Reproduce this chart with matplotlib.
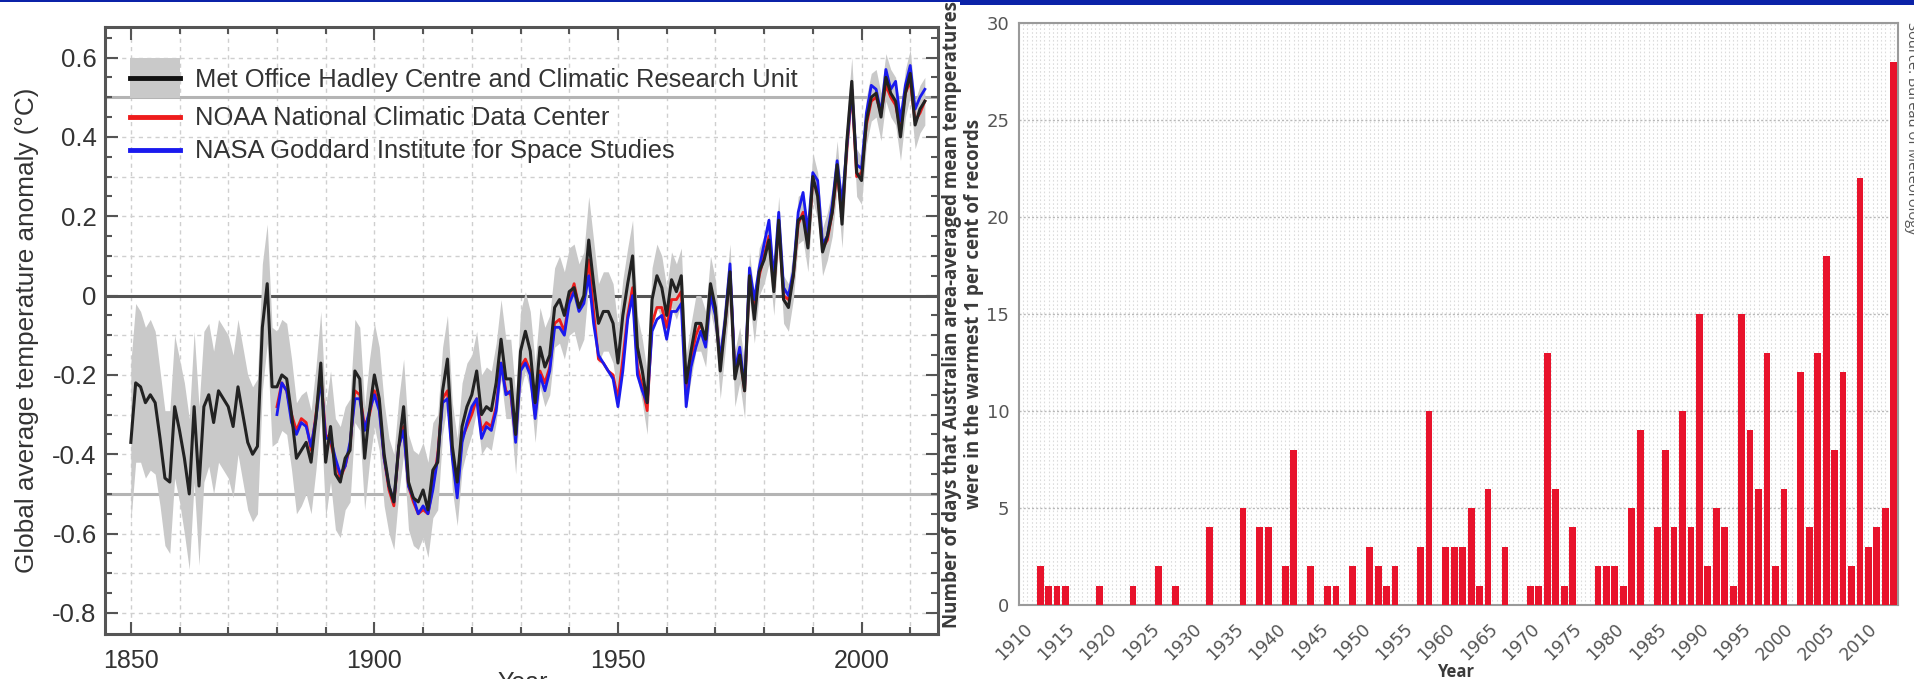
import numpy as np
import matplotlib.pyplot as plt
from matplotlib.patches import Rectangle
from matplotlib.lines import Line2D

# ---- global temperature anomaly (deg C, relative to 1961-1990) ----
had_years = np.arange(1850, 2014)
had_anom = [
    -0.37, -0.22, -0.23, -0.27, -0.25, -0.27, -0.36, -0.46, -0.47, -0.28,
    -0.34, -0.41, -0.50, -0.28, -0.48, -0.28, -0.25, -0.32, -0.24, -0.26,
    -0.28, -0.33, -0.23, -0.30, -0.37, -0.40, -0.38, -0.08, 0.03, -0.23,
    -0.23, -0.20, -0.21, -0.30, -0.41, -0.39, -0.37, -0.42, -0.31, -0.17,
    -0.42, -0.33, -0.45, -0.47, -0.41, -0.39, -0.19, -0.21, -0.41, -0.29,
    -0.20, -0.26, -0.40, -0.48, -0.52, -0.38, -0.28, -0.47, -0.51, -0.52,
    -0.49, -0.54, -0.44, -0.42, -0.24, -0.16, -0.38, -0.47, -0.33, -0.28,
    -0.25, -0.19, -0.30, -0.28, -0.29, -0.22, -0.11, -0.21, -0.21, -0.35,
    -0.14, -0.09, -0.14, -0.27, -0.13, -0.18, -0.15, -0.03, -0.01, -0.05,
    0.01, 0.02, -0.03, 0.00, 0.14, 0.03, -0.07, -0.04, -0.04, -0.07,
    -0.17, -0.05, 0.03, 0.10, -0.13, -0.19, -0.27, -0.01, 0.05, 0.02,
    -0.05, 0.04, 0.01, 0.05, -0.22, -0.14, -0.07, -0.07, -0.11, 0.03,
    -0.03, -0.19, -0.07, 0.06, -0.21, -0.15, -0.24, 0.05, -0.06, 0.06,
    0.09, 0.14, 0.01, 0.19, -0.01, -0.03, 0.05, 0.19, 0.20, 0.12,
    0.30, 0.25, 0.11, 0.15, 0.21, 0.33, 0.18, 0.39, 0.54, 0.31,
    0.29, 0.44, 0.50, 0.51, 0.45, 0.55, 0.51, 0.49, 0.40, 0.51,
    0.56, 0.43, 0.47, 0.49,
]
# half width of the HadCRUT uncertainty range
had_unc = [
    0.20, 0.20, 0.19, 0.19, 0.19, 0.18, 0.17, 0.17, 0.18, 0.18,
    0.18, 0.19, 0.19, 0.19, 0.20, 0.19, 0.18, 0.18, 0.18, 0.18,
    0.18, 0.18, 0.17, 0.17, 0.17, 0.17, 0.17, 0.16, 0.15, 0.15,
    0.14, 0.14, 0.14, 0.14, 0.14, 0.14, 0.13, 0.13, 0.13, 0.13,
    0.14, 0.14, 0.14, 0.14, 0.13, 0.13, 0.13, 0.13, 0.13, 0.13,
    0.13, 0.13, 0.13, 0.12, 0.12, 0.12, 0.12, 0.12, 0.12, 0.12,
    0.12, 0.12, 0.12, 0.12, 0.11, 0.11, 0.11, 0.11, 0.11, 0.11,
    0.10, 0.10, 0.10, 0.10, 0.10, 0.10, 0.10, 0.10, 0.10, 0.10,
    0.10, 0.10, 0.10, 0.10, 0.10, 0.10, 0.10, 0.10, 0.11, 0.11,
    0.11, 0.11, 0.11, 0.11, 0.11, 0.11, 0.10, 0.10, 0.10, 0.10,
    0.09, 0.09, 0.09, 0.09, 0.08, 0.08, 0.08, 0.08, 0.08, 0.08,
    0.07, 0.07, 0.07, 0.07, 0.07, 0.07, 0.07, 0.07, 0.07, 0.07,
    0.07, 0.07, 0.07, 0.07, 0.07, 0.07, 0.07, 0.06, 0.06, 0.06,
    0.06, 0.06, 0.06, 0.06, 0.06, 0.06, 0.06, 0.06, 0.06, 0.06,
    0.06, 0.06, 0.06, 0.06, 0.06, 0.06, 0.06, 0.06, 0.06, 0.06,
    0.06, 0.06, 0.06, 0.06, 0.06, 0.06, 0.06, 0.06, 0.06, 0.06,
    0.06, 0.06, 0.06, 0.06,
]

gh_years = np.arange(1880, 2014)
noaa_anom = [
    -0.28, -0.22, -0.24, -0.30, -0.34, -0.31, -0.32, -0.39, -0.30, -0.20,
    -0.35, -0.37, -0.42, -0.46, -0.43, -0.38, -0.24, -0.25, -0.33, -0.30,
    -0.24, -0.28, -0.41, -0.49, -0.53, -0.38, -0.33, -0.48, -0.52, -0.55,
    -0.54, -0.55, -0.48, -0.40, -0.26, -0.24, -0.40, -0.48, -0.36, -0.33,
    -0.30, -0.26, -0.34, -0.32, -0.33, -0.28, -0.17, -0.24, -0.25, -0.36,
    -0.18, -0.16, -0.19, -0.30, -0.19, -0.22, -0.18, -0.07, -0.06, -0.09,
    -0.01, 0.03, -0.03, -0.01, 0.09, -0.04, -0.16, -0.17, -0.19, -0.20,
    -0.26, -0.16, -0.05, 0.02, -0.18, -0.23, -0.29, -0.07, -0.03, -0.03,
    -0.08, -0.01, -0.01, 0.01, -0.25, -0.16, -0.10, -0.07, -0.12, 0.01,
    -0.04, -0.17, -0.07, 0.06, -0.19, -0.15, -0.24, 0.05, -0.02, 0.05,
    0.10, 0.15, 0.02, 0.18, 0.00, -0.01, 0.05, 0.18, 0.21, 0.13,
    0.29, 0.26, 0.12, 0.14, 0.21, 0.31, 0.20, 0.37, 0.52, 0.30,
    0.31, 0.43, 0.49, 0.50, 0.46, 0.53, 0.50, 0.48, 0.42, 0.51,
    0.54, 0.44, 0.46, 0.49,
]
nasa_anom = [
    -0.30, -0.22, -0.24, -0.32, -0.35, -0.32, -0.33, -0.38, -0.31, -0.21,
    -0.36, -0.36, -0.41, -0.45, -0.43, -0.37, -0.26, -0.26, -0.34, -0.29,
    -0.25, -0.29, -0.41, -0.48, -0.52, -0.38, -0.34, -0.48, -0.51, -0.55,
    -0.53, -0.55, -0.49, -0.41, -0.27, -0.26, -0.41, -0.51, -0.37, -0.32,
    -0.28, -0.26, -0.36, -0.33, -0.34, -0.29, -0.17, -0.25, -0.24, -0.37,
    -0.19, -0.17, -0.20, -0.31, -0.20, -0.24, -0.19, -0.08, -0.08, -0.10,
    -0.02, 0.01, -0.04, -0.02, 0.05, -0.07, -0.15, -0.17, -0.19, -0.21,
    -0.28, -0.19, -0.06, 0.00, -0.20, -0.24, -0.27, -0.09, -0.06, -0.05,
    -0.11, -0.04, -0.04, -0.02, -0.28, -0.18, -0.13, -0.09, -0.13, 0.00,
    -0.05, -0.16, -0.06, 0.08, -0.19, -0.13, -0.23, 0.07, -0.01, 0.07,
    0.13, 0.19, 0.04, 0.21, 0.02, 0.00, 0.06, 0.21, 0.26, 0.16,
    0.31, 0.29, 0.13, 0.15, 0.23, 0.34, 0.23, 0.38, 0.52, 0.33,
    0.32, 0.46, 0.53, 0.52, 0.46, 0.57, 0.52, 0.54, 0.44, 0.53,
    0.58, 0.47, 0.50, 0.52,
]

# ---- Australian days in the warmest 1 per cent (years with none are left out) ----
warm_years = [1912, 1913, 1914, 1915, 1919, 1923, 1926, 1928, 1932, 1936,
              1938, 1939, 1941, 1942, 1944, 1946, 1947, 1949, 1951, 1952,
              1953, 1954, 1957, 1958, 1960, 1961, 1962, 1963, 1964, 1965,
              1967, 1970, 1971, 1972, 1973, 1974, 1975, 1978, 1979, 1980,
              1981, 1982, 1983, 1985, 1986, 1987, 1988, 1989, 1990, 1991,
              1992, 1993, 1994, 1995, 1996, 1997, 1998, 1999, 2000, 2002,
              2003, 2004, 2005, 2006, 2007, 2008, 2009, 2010, 2011, 2012,
              2013]
warm_days = [2, 1, 1, 1, 1, 1, 2, 1, 4, 5,
             4, 4, 2, 8, 2, 1, 1, 2, 3, 2,
             1, 2, 3, 10, 3, 3, 3, 5, 1, 6,
             3, 1, 1, 13, 6, 1, 4, 2, 2, 2,
             1, 5, 9, 4, 8, 4, 10, 4, 15, 2,
             5, 4, 1, 15, 9, 6, 13, 2, 6, 12,
             4, 13, 18, 8, 12, 2, 22, 3, 4, 5,
             28]

W, H = 1915, 679
fig = plt.figure(figsize=(W / 100, H / 100), dpi=100)

# ================= left: global average temperature =================
ax1 = fig.add_axes([105 / W, 1 - 634 / H, 833 / W, 607 / H])
left_font = 'Liberation Sans'

for yv in np.arange(-0.8, 0.65, 0.1):
    if abs(round(yv, 2)) in (0.0, 0.5):
        continue
    ax1.axhline(yv, color='#cfcfcf', lw=1, ls=(0, (3, 3)), zorder=0)
for xv in range(1850, 2016, 10):
    ax1.axvline(xv, color='#cfcfcf', lw=1, ls=(0, (3, 3)), zorder=0)
ax1.axhline(0.5, color='#b4b4b4', lw=2.2, zorder=0)
ax1.axhline(-0.5, color='#b4b4b4', lw=2.2, zorder=0)
ax1.axhline(0, color='#555555', lw=2.2, zorder=1)

had = np.array(had_anom)
unc = np.array(had_unc)
ax1.fill_between(had_years, had - unc, had + unc, color='#c9c9c9', lw=0, zorder=2)
ax1.plot(gh_years, noaa_anom, color='#ee1c1c', lw=2.0, zorder=3)
ax1.plot(gh_years, nasa_anom, color='#1a1aee', lw=2.0, zorder=4)
ax1.plot(had_years, had_anom, color='#222222', lw=2.2, zorder=5)

ax1.set_xlim(1844.7, 2015.7)
ax1.set_ylim(-0.853, 0.677)
ax1.set_xticks([1850, 1900, 1950, 2000])
ax1.set_xticks(range(1850, 2016, 10), minor=True)
ax1.set_yticks(np.arange(-0.8, 0.61, 0.2))
ax1.set_yticks(np.arange(-0.8, 0.66, 0.05), minor=True)
ax1.set_yticklabels(['-0.8', '-0.6', '-0.4', '-0.2', '0', '0.2', '0.4', '0.6'])
ax1.tick_params(which='both', direction='in', top=True, right=True,
                color='#555555', width=1.5)
ax1.tick_params(which='major', length=9)
ax1.tick_params(which='minor', length=5)
ax1.tick_params(axis='x', which='major', labelsize=18, pad=11, labelcolor='#333333')
ax1.tick_params(axis='y', which='major', labelsize=18.5, pad=6, labelcolor='#333333')
for lab in ax1.get_xticklabels() + ax1.get_yticklabels():
    lab.set_family(left_font)
for sp in ax1.spines.values():
    sp.set_color('#555555')
    sp.set_linewidth(2.2)

# legend
tr = ax1.transAxes
ax1.add_patch(Rectangle((0.030, 0.883), 0.060, 0.066, transform=tr,
                        color='#c9c9c9', lw=0, zorder=6))
ax1.add_line(Line2D([0.030, 0.090], [0.916, 0.916], transform=tr,
                    color='#111111', lw=3.5, zorder=7))
ax1.add_line(Line2D([0.030, 0.090], [0.852, 0.852], transform=tr,
                    color='#ee1c1c', lw=3.5, zorder=7))
ax1.add_line(Line2D([0.030, 0.090], [0.797, 0.797], transform=tr,
                    color='#1a1aee', lw=3.5, zorder=7))
leg_labels = ['Met Office Hadley Centre and Climatic Research Unit',
              'NOAA National Climatic Data Center',
              'NASA Goddard Institute for Space Studies']
for lab, yy in zip(leg_labels, [0.913, 0.850, 0.795]):
    ax1.text(0.108, yy, lab, transform=tr, fontsize=18.4, family=left_font,
             color='#333333', va='center', ha='left', zorder=7)

fig.text(27 / W, 1 - 330 / H, 'Global average temperature anomaly (°C)',
         rotation=90, ha='center', va='center', fontsize=18.8,
         family=left_font, color='#333333')
fig.text(523 / W, 1 - 671 / H, 'Year', ha='center', va='top', fontsize=18,
         family=left_font, color='#333333')

# ================= right: Australian hot days =================
ax2 = fig.add_axes([1019 / W, 1 - 605 / H, 879 / W, 582 / H])
ax2.bar(warm_years, warm_days, width=0.8, color='#e8132c', lw=0, zorder=3)
ax2.set_xlim(1909.5, 2013.5)
ax2.set_ylim(0, 30)
ax2.set_yticks(range(0, 31, 5))
ax2.set_xticks(range(1910, 2011, 5))
ax2.set_xticks(np.arange(1910, 2014, 0.5), minor=True)
ax2.grid(axis='x', which='both', color='#dcdcdc', lw=0.8, ls=(0, (1.5, 2)), zorder=0)
ax2.grid(axis='y', which='major', color='#b8b8b8', lw=1.0, ls=(0, (1.5, 1.5)), zorder=0)
ax2.tick_params(which='both', length=0)
ax2.tick_params(axis='y', pad=7, labelsize=13, labelcolor='#555555')
ax2.tick_params(axis='x', pad=11, labelsize=12.5, labelcolor='#555555')
narrow = 'Liberation Sans Narrow'
for lab in ax2.get_yticklabels():
    lab.set_family(narrow)
for lab in ax2.get_xticklabels():
    lab.set_family(narrow)
    lab.set_rotation(45)
    lab.set_ha('right')
    lab.set_va('top')
    lab.set_rotation_mode('anchor')
for sp in ax2.spines.values():
    sp.set_color('#9a9a9a')
    sp.set_linewidth(1.5)

fig.text(963 / W, 1 - 314 / H,
         'Number of days that Australian area-averaged mean temperatures\n'
         'were in the warmest 1 per cent of records',
         rotation=90, ha='center', va='center', multialignment='center',
         fontsize=13.5, fontweight='bold', family='Open Sans',
         color='#3a3a3a', linespacing=1.1)
fig.text(1456 / W, 1 - 663 / H, 'Year', ha='center', va='top', fontsize=12,
         fontweight='bold', family='Open Sans', color='#3a3a3a')
fig.text(1904 / W, 1 - 22 / H, 'Source: Bureau of Meteorology', rotation=-90,
         ha='left', va='top', fontsize=10.5, family='Open Sans', color='#555555')

# blue header strip
fig.add_artist(Rectangle((0, 1 - 1.5 / H), 960 / W, 1.5 / H,
                         transform=fig.transFigure, color='#0b22a8', lw=0))
fig.add_artist(Rectangle((960 / W, 1 - 4.5 / H), 955 / W, 4.5 / H,
                         transform=fig.transFigure, color='#0b22a8', lw=0))

fig.savefig('out.png', dpi=100)
